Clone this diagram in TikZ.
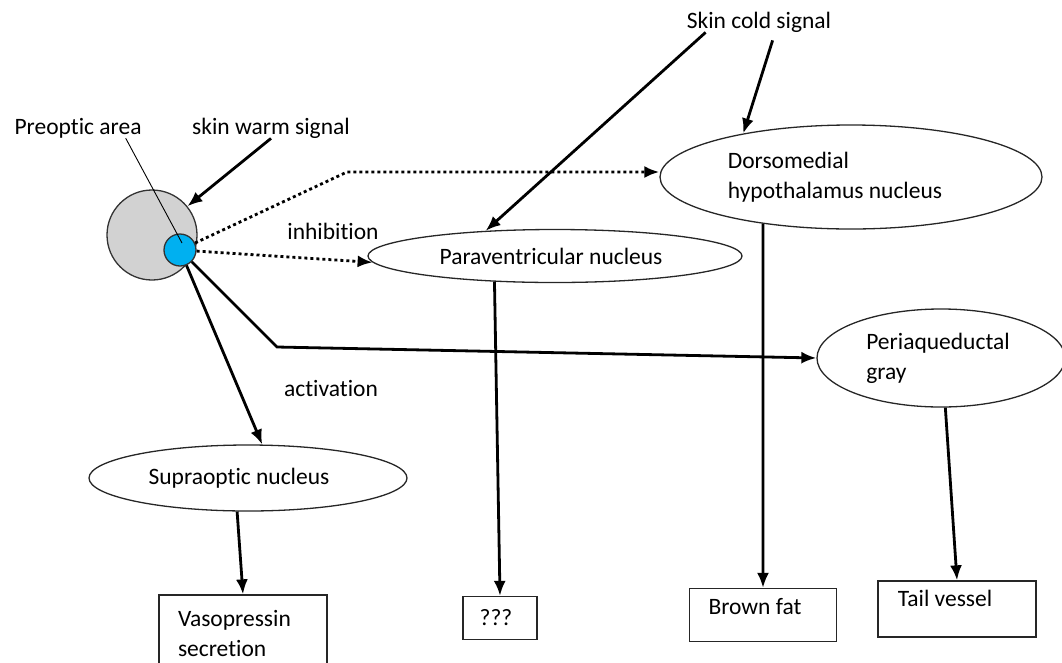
\documentclass[tikz,border=0pt]{standalone}
\usepackage{fontspec}
\setmainfont{Carlito}[Ligatures=NoCommon]
\usetikzlibrary{shapes.geometric,arrows.meta,calc}
\definecolor{poagray}{RGB}{210,210,210}
\definecolor{poablue}{RGB}{0,176,240}
\newcommand{\padr}[1]{\rule{#1}{0pt}}
\tikzset{
  txt/.style={inner sep=0pt, font=\fontsize{23.5}{30}\selectfont, align=left},
  oval/.style={ellipse, draw=black!85, line width=1.3pt, inner sep=0pt, font=\fontsize{23.5}{30}\selectfont, align=left},
  outbox/.style={rectangle, draw=black!85, line width=1.3pt, inner sep=0pt, font=\fontsize{23.5}{30}\selectfont, align=left},
  arr/.style={line width=2.8pt, -{Latex[length=15pt,width=12pt]}},
  darr/.style={line width=2.8pt, dash pattern=on 3pt off 3pt, -{Latex[length=15pt,width=12pt]}},
  thinline/.style={line width=0.9pt}
}
\begin{document}
\begin{tikzpicture}[x=1pt,y=-1pt]
\clip (0,0) rectangle (1062,662);
\useasboundingbox (0,0) rectangle (1062,662);

% preoptic area circles
\node[circle, draw=black!80, line width=1.3pt, fill=poagray, minimum size=90pt, inner sep=0pt] (poa) at (152,235) {};
\node[circle, draw=black!80, line width=1.3pt, fill=poablue, minimum size=32pt, inner sep=0pt] (blue) at (180,250) {};

% labels
\node[txt] (poalabel) at (78,128) {Preoptic area};
\node[txt] (warm) at (271,128) {skin warm signal};
\node[txt] (cold) at (759,22) {Skin cold signal};
\node[txt] (inhib) at (333,231) {inhibition};
\node[txt] (activ) at (331,388) {activation};

% ellipses
\node[oval, minimum width=374pt, minimum height=53pt] (para) at (555,256) {Paraventricular nucleus\padr{8pt}};
\node[oval, minimum width=382pt, minimum height=104pt] (dors) at (851,177) {Dorsomedial\\hypothalamus nucleus\padr{32pt}};
\node[oval, minimum width=248pt, minimum height=98pt] (peri) at (941,358) {Periaqueductal\padr{6pt}\\gray};
\node[oval, minimum width=318pt, minimum height=66pt] (supra) at (248,478) {Supraoptic nucleus\padr{18pt}};

% output boxes
\node[outbox, minimum width=168pt, minimum height=76pt, text width=130pt] (vaso) at (243,633) {Vasopressin\\secretion};
\node[outbox, minimum width=74pt, minimum height=43pt] (qqq) at (500,618) {???\padr{8pt}};
\node[outbox, minimum width=147pt, minimum height=53pt, text depth=17pt] (brown) at (763,615) {Brown fat\padr{16pt}};
\node[outbox, minimum width=158pt, minimum height=56pt, text depth=21pt] (tail) at (957,609) {Tail vessel\padr{24pt}};

% helper coordinates
\coordinate (bend) at (347,172);
\coordinate (elbow) at (277,347);

% label pointer
\draw[thinline] ($(poalabel.south east)+(-16,0)$) -- ($(blue.center)+(2,-7)$);

% signals
\draw[arr] (warm.south) -- (poa);
\draw[arr] ($(cold.south west)+(19,0)$) -- (para.160);
\draw[arr] ($(cold.south west)+(86,8)$) -- (dors.158);

% inhibition (dotted)
\draw[darr] (blue.25) -- (bend) -- (bend -| dors.west);
\draw[darr] (blue) -- (para.182);

% activation (solid)
\draw[arr] (blue) -- (supra.67);
\draw[arr] (blue) -- (elbow) -- (peri.west);

% outputs
\draw[arr] (supra.252) -- (vaso.north);
\draw[arr] (para.203) -- (qqq.north);
\draw[arr] (dors.208) -- (brown.north);
\draw[arr] (peri.-85) -- (tail.north);
\end{tikzpicture}
\end{document}
